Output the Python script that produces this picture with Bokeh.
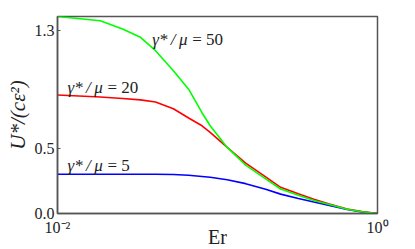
from bokeh.plotting import figure
from bokeh.models import FixedTicker
from bokeh.core.properties import value
from bokeh.embed import file_html
from bokeh.resources import INLINE

# Data
er = [0.01, 0.0185, 0.0255, 0.033, 0.041, 0.053, 0.066, 0.08, 0.09, 0.115,
      0.15, 0.2, 0.248, 0.32, 0.4, 0.5, 0.646, 0.8, 1.0]
u_g50 = [1.505, 1.473, 1.41, 1.346, 1.244, 1.09, 0.95, 0.77, 0.67, 0.505,
         0.37, 0.265, 0.187, 0.14, 0.10, 0.068, 0.033, 0.013, 0.0]
u_g20 = [0.905, 0.89, 0.878, 0.868, 0.852, 0.80, 0.73, 0.67, 0.62, 0.505,
         0.385, 0.28, 0.20, 0.15, 0.108, 0.073, 0.035, 0.015, 0.0]
u_g5 = [0.30, 0.30, 0.30, 0.30, 0.30, 0.298, 0.292, 0.283, 0.277, 0.258,
        0.228, 0.185, 0.148, 0.115, 0.088, 0.062, 0.03, 0.012, 0.0]

x_ticks = [0.01, 1.0]
x_tick_labels = ["10⁻²", "10⁰"]
y_ticks = [0.0, 0.5, 1.4]
y_tick_labels = ["0.0", "0.5", "1.3"]

ratio_values = ["50", "20", "5"]
label_x = [0.0391, 0.01155, 0.01155]
label_y = [1.333, 0.963, 0.365]

SERIF = "Liberation Serif"
FRAME = "#555555"
TXT = "#222222"

p = figure(frame_width=320, frame_height=197,
           x_axis_type="log", x_range=(0.01, 1.0), y_range=(0, 1.505),
           output_backend="svg", toolbar_location=None,
           min_border_left=57, min_border_right=38,
           min_border_top=16, min_border_bottom=36)

p.background_fill_color = "white"
p.border_fill_color = "white"
p.outline_line_color = FRAME
p.outline_line_width = 1.5
p.xgrid.visible = False
p.ygrid.visible = False

p.line(er, u_g5, line_color="#0000ff", line_width=1.6)
p.line(er, u_g20, line_color="#ff0000", line_width=1.6)
p.line(er, u_g50, line_color="#00ff00", line_width=1.6)

# annotations: italic "γ*/μ" followed by upright "= value"
p.text(x=label_x, y=label_y, text=["γ*\u2009/\u2009μ"] * len(ratio_values),
       text_font=value(SERIF), text_font_style="italic",
       text_font_size="17px", text_color=TXT,
       text_baseline="alphabetic", text_align="left")
p.text(x=label_x, y=label_y, text=["= " + v for v in ratio_values],
       text_font=value(SERIF), text_font_style="normal",
       text_font_size="17px", text_color=TXT, x_offset=40,
       text_baseline="alphabetic", text_align="left")

xa = p.xaxis[0]
xa.ticker = FixedTicker(ticks=x_ticks, minor_ticks=[])
xa.major_label_overrides = {t: l for t, l in zip(x_ticks, x_tick_labels)}
xa.axis_label = "Er"
xa.axis_label_text_font = SERIF
xa.axis_label_text_font_style = "normal"
xa.axis_label_text_font_size = "20px"
xa.axis_label_standoff = -13
xa.major_label_standoff = 5

ya = p.yaxis[0]
ya.ticker = FixedTicker(ticks=y_ticks, minor_ticks=[])
ya.major_label_overrides = {t: l for t, l in zip(y_ticks, y_tick_labels)}
ya.axis_label = "U*/(cε²)"
ya.axis_label_text_font = SERIF
ya.axis_label_text_font_style = "italic"
ya.axis_label_text_font_size = "21px"
ya.axis_label_standoff = 2
ya.major_label_standoff = 3

for ax in (xa, ya):
    ax.axis_line_color = FRAME
    ax.axis_line_width = 1.5
    ax.major_tick_line_color = FRAME
    ax.major_tick_in = 3
    ax.major_tick_out = 0
    ax.minor_tick_line_color = None
    ax.major_label_text_font = SERIF
    ax.major_label_text_font_style = "normal"
    ax.major_label_text_font_size = "16px"
    ax.major_label_text_color = TXT
    ax.axis_label_text_color = TXT

open("out.html", "w").write(file_html(p, INLINE))
